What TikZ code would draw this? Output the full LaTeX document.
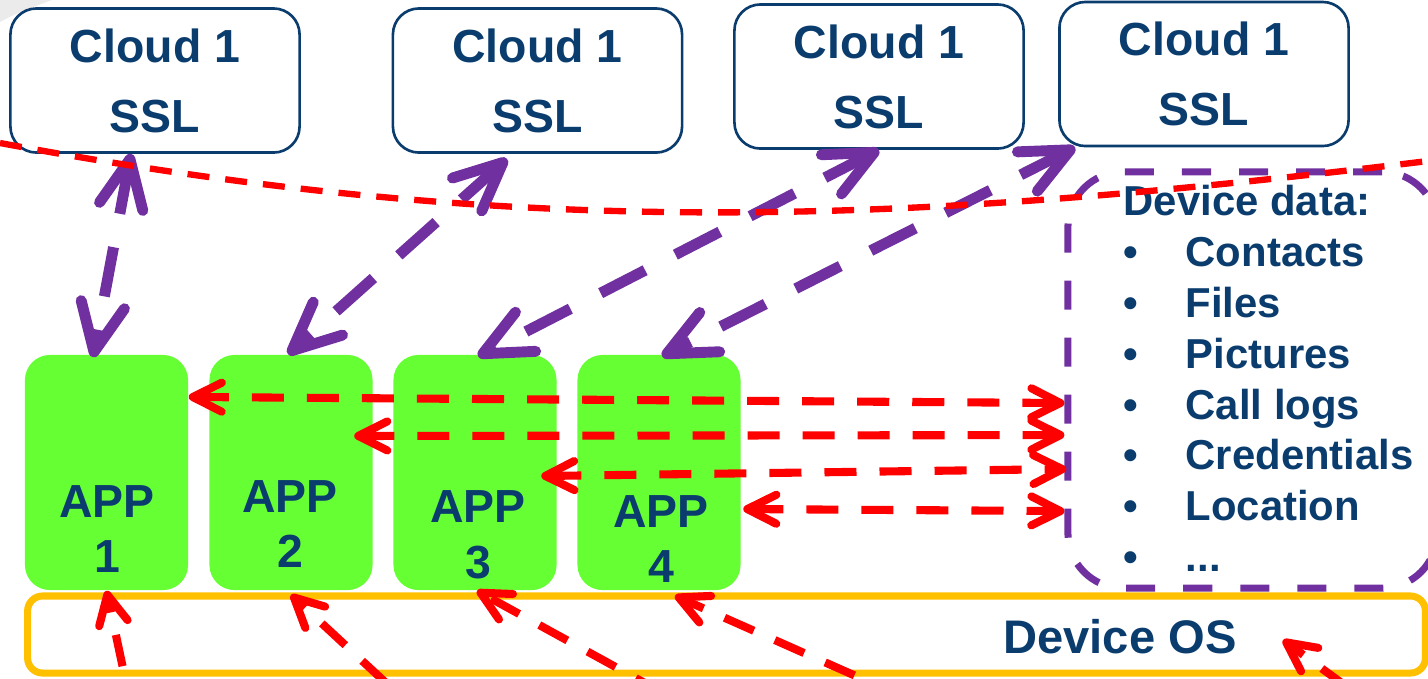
\documentclass[tikz,border=0pt]{standalone}
\usepackage{fontspec}
\setmainfont{Liberation Sans}
\usetikzlibrary{arrows.meta}
\definecolor{textblue}{HTML}{0A3C6E}
\definecolor{linkpurple}{HTML}{7030A0}
\definecolor{appgreen}{HTML}{66FF33}
\definecolor{osorange}{HTML}{FFC000}
\definecolor{leakred}{HTML}{FF0000}

\begin{document}
\begin{tikzpicture}[x=0.01cm,y=-0.01cm,
 cloud/.style={draw=textblue,line width=.75pt,rounded corners=2.6mm,minimum width=2.89cm,minimum height=1.44cm,inner sep=0pt,align=center,text=textblue,font=\fontsize{13.2}{19.9}\selectfont\bfseries},
 app/.style={fill=appgreen,rounded corners=2.5mm,minimum width=1.63cm,minimum height=2.35cm,inner sep=0pt},
 apptxt/.style={align=center,inner sep=0pt,text=textblue,font=\fontsize{13.2}{15.9}\selectfont\bfseries},
 osbox/.style={draw=osorange,line width=2pt,rounded corners=1.5mm,minimum width=13.97cm,minimum height=.77cm,inner sep=0pt},
 databox/.style={draw=linkpurple,line width=2pt,dash pattern=on 2.9mm off 2.8mm,rounded corners=5.5mm,minimum width=3.69cm,minimum height=4.16cm,inner sep=0pt},
 datatxt/.style={align=left,inner sep=0pt,text=textblue,font=\fontsize{11.9}{14.5}\selectfont\bfseries},
 sync/.style={<->,>={Straight Barb[round,length=4.8mm,width=4.4mm]},draw=linkpurple,line width=3.1pt,dash pattern=on 5mm off 3.4mm},
 access/.style={>={Straight Barb[round,length=2.9mm,width=2.9mm]},draw=leakred,line width=2.3pt,dash pattern=on 3.2mm off 2.3mm},
 border/.style={draw=leakred,line width=1.8pt,dash pattern=on 2.2mm off 1.6mm}]
\useasboundingbox (0,0) rectangle (1428,678);
\clip (0,0) rectangle (1428,678);
\fill[black!8] (0,0) -- (52,0) .. controls (30,8) and (12,15) .. (0,22) -- cycle;
% platform and data store
\node[osbox] (os) at (726.5,634.5) {};
\node[text=textblue,inner sep=0pt,font=\fontsize{13.4}{16}\selectfont\bfseries] (ostxt) at (1120,637) {Device OS};
\node[databox] (data) at (1252.5,380) {};
\node[datatxt,anchor=north west] (datalist) at (1123,184) {Device data:\\
\makebox[6.2mm][l]{\textbullet}Contacts\\
\makebox[6.2mm][l]{\textbullet}Files\\
\makebox[6.2mm][l]{\textbullet}Pictures\\
\makebox[6.2mm][l]{\textbullet}Call logs\\
\makebox[6.2mm][l]{\textbullet}Credentials\\
\makebox[6.2mm][l]{\textbullet}Location\\
\makebox[6.2mm][l]{\textbullet}...};
% apps
\node[app] (app1) at (106.5,472.5) {};
\node[app] (app2) at (291,472.5) {};
\node[app] (app3) at (475,472.5) {};
\node[app] (app4) at (659,472.5) {};
\node[apptxt] (app1txt) at (107,529) {APP\\1};
\node[apptxt] (app2txt) at (290,524) {APP\\2};
\node[apptxt] (app3txt) at (478,535) {APP\\3};
\node[apptxt] (app4txt) at (661,539) {APP\\4};
% clouds
\node[cloud] (cloud1) at (155,80.5) {Cloud 1\\SSL};
\node[cloud] (cloud2) at (537.5,80.5) {Cloud 1\\SSL};
\node[cloud] (cloud3) at (879,76.5) {Cloud 1\\SSL};
\node[cloud] (cloud4) at (1204,74) {Cloud 1\\SSL};
\draw[sync] ([xshift=-2.4mm]cloud1.south) -- ([xshift=-1.35mm,yshift=-.3mm]app1.north);
\draw[sync] ([xshift=-3.05mm,yshift=-.5mm]cloud2.south) -- ([xshift=-.3mm]app2.north);
\draw[sync] (cloud3.south) -- ([xshift=.3mm,yshift=-.2mm]app3.north);
\draw[sync] ([xshift=1.7mm]cloud4.south west) -- ([xshift=.3mm,yshift=-.2mm]app4.north);
% local data access
\draw[access,<->] ([yshift=7.55mm]app1.east) -- ([yshift=-2.3mm]data.west);
\draw[access,<->] ([xshift=-1.9mm,yshift=3.65mm]app2.east) -- ([yshift=-5.5mm]data.west);
\draw[access,<->] ([xshift=-1.6mm,yshift=-.35mm]app3.east) -- ([xshift=.2mm,yshift=-8.9mm]data.west);
\draw[access,<->] ([xshift=.2mm,yshift=-3.65mm]app4.east) -- ([yshift=-13.1mm]data.west);
% from below
\coordinate (src1) at (134,720);
\coordinate (src2) at (426,720);
\coordinate (src3) at (712,720);
\coordinate (src4) at (955,720);
\coordinate (src5) at (1392,720);
\coordinate (osin) at (1283,640);
\draw[access,->] (src1) -- (app1.south);
\draw[access,->] (src2) -- ([yshift=-.4mm]app2.south);
\draw[access,->] (src3) -- ([xshift=.2mm]app3.south);
\draw[access,->] (src4) -- ([xshift=1.6mm,yshift=-.5mm]app4.south);
\draw[access,->] (src5) -- (osin);
% trust boundary
\draw[border] (0,143) .. controls (520,240) and (900,225) .. (1428,161);
\end{tikzpicture}
\end{document}
